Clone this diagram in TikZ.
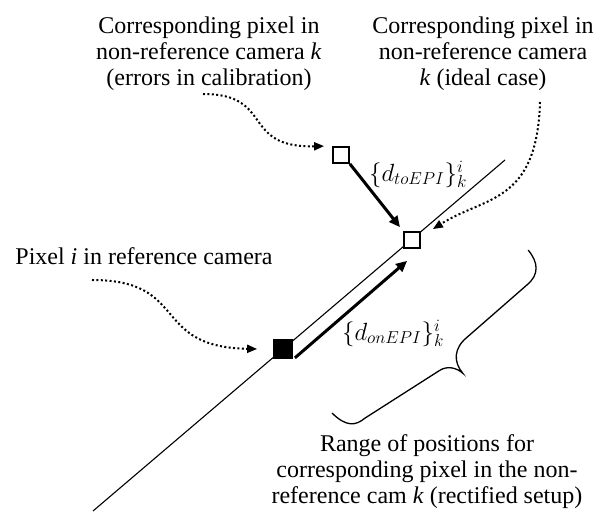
\documentclass[tikz,border=0pt]{standalone}
\usepackage{fontspec}
\setmainfont{Liberation Serif}
\usetikzlibrary{arrows.meta,positioning,calc}
\tikzset{
  lbl/.style={align=center,font=\fontsize{24}{26}\selectfont,inner sep=0pt},
  mlbl/.style={font=\fontsize{25}{28}\selectfont,inner sep=0pt},
  pix/.style={draw,line width=1.8pt,minimum size=16pt,inner sep=0pt,fill=white},
  epi/.style={line width=1.1pt},
  dst/.style={-{Triangle[length=11pt,width=10pt]},line width=3pt},
  hint/.style={-{Triangle[length=10pt,width=8pt]},line width=2pt,dash pattern=on 2pt off 2.4pt},
  rng/.style={line width=1.3pt},
}
\begin{document}
\begin{tikzpicture}[x=1pt,y=1pt]
 \useasboundingbox (0,0) rectangle (598,514);
 % epipolar line
 \coordinate (epiA) at (93,3);
 \coordinate (epiB) at (505,354);
 \draw[epi] (epiA) -- (epiB);
 % pixels
 \node[pix,fill=black,minimum size=18pt] (pref) at (283,165) {};
 \node[pix] (pideal) at (412,274) {};
 \node[pix] (perr) at (341,359) {};
 % texts
 \node[lbl] (terr) at (209,460) {Corresponding pixel in\\non-reference camera \textit{k}\\(errors in calibration)};
 \node[lbl] (tideal) at (483,460) {Corresponding pixel in\\non-reference camera\\\textit{k} (ideal case)};
 \node[lbl] (tref) at (144,258) {Pixel \textit{i} in reference camera};
 \node[lbl] (trange) at (427,42) {Range of positions for\\corresponding pixel in the non-\\reference cam \textit{k} (rectified setup)};
 % displacements
 \draw[dst,shorten >=5pt] (perr.south east) -- (pideal.north west);
 \draw[dst] ([shift={(2pt,1pt)}]pref.south east) -- ([shift={(4pt,-12pt)}]pideal.south west);
 \node[mlbl] (ltoepi) at (418,340) {$\{d_{toEPI}\}_k^i$};
 \node[mlbl] (lonepi) at (393,181) {$\{d_{onEPI}\}_k^i$};
 % pointers
 \coordinate (cerr) at (203,420);
 \coordinate (cideal) at (540,412);
 \coordinate (cref) at (92,234);
 \draw[hint] (cerr) .. controls (275,420) and (240,366) .. ([xshift=-8pt]perr.north west);
 \draw[hint] (cideal) .. controls (537,310) and (485,318) .. ([shift={(12pt,2pt)}]pideal.north east);
 \draw[hint] (cref) .. controls (190,234) and (150,167) .. ([xshift=-16pt]pref.west);
 % range
 \coordinate (brbot) at (332,101);
 \coordinate (brtop) at (528,264);
 \begin{scope}[shift={(brbot)},rotate=39.7]
  \draw[rng] (0,0) .. controls (2,-20) and (10,-25) .. (22,-25) -- (110,-36)
   .. controls (119,-37) and (125,-45) .. (126,-53)
   .. controls (126,-38) and (135,-28) .. (152,-28) -- (232,-26)
   .. controls (248,-26) and (255,-16) .. (255,0);
 \end{scope}
\end{tikzpicture}
\end{document}
